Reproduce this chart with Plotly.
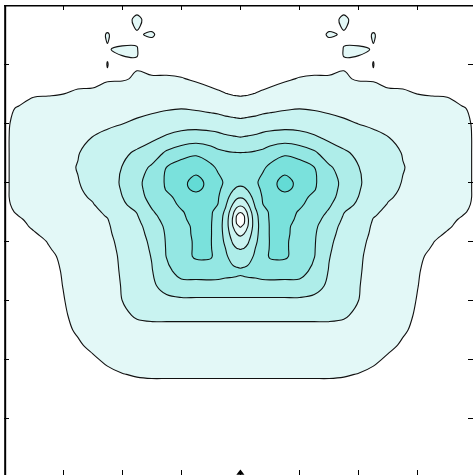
import plotly.graph_objects as go

# Grid columns for the left half of the field (x <= 0); the field is mirror-symmetric about x = 0.
x_half = [-4.0, -3.75, -3.5, -3.25, -3.0, -2.75, -2.5, -2.25, -2.0, -1.75, -1.5,
          -1.25, -1.0, -0.75, -0.5, -0.375, -0.25, -0.125, -0.0625, 0.0]

# Grid rows, top to bottom (finer spacing through the central well).
y_rows = [4.0, 3.75, 3.5, 3.25, 3.0, 2.75, 2.5, 2.25, 2.0, 1.75, 1.5, 1.25, 1.0,
          0.875, 0.75, 0.625, 0.5, 0.4375, 0.375, 0.3125, 0.25, 0.125, 0.0, -0.125, -0.25,
          -0.5, -0.75, -1.0, -1.25, -1.5, -1.75, -2.0, -2.25, -2.5, -2.75,
          -3.0, -3.25, -3.5, -3.75, -4.0]

# Field values on the half grid, one row per entry of y_rows.
z_half = [
    [0, 0, 0, 0, 0, 0, 0, 0, 0, 0, 0, 0, 0, 0, 0, 0, 0, 0, 0, 0],
    [0, 0, 0, 0, 0, 0, 0, 0, 0, 1.5, 0, 0, 0, 0, 0, 0, 0, 0, 0, 0],
    [0, 0, 0, 0, 0, 0, 0, 1.15, 0, 0.8, 1.25, 0, 0, 0, 0, 0, 0, 0, 0, 0],
    [0, 0, 0, 0, 0, 0, 0, 0.9, 1.3, 1.05, 0, 0, 0, 0, 0, 0, 0, 0, 0, 0],
    [0, 0, 0.18, 0.2, 0.33, 0.62, 0.51, 1.02, 0.6, 0.95, 0.72, 0.69, 0.59, 0.38, 0.15, 0, 0, 0, 0, 0],
    [0, 0.33, 0.55, 0.58, 0.67, 0.85, 0.82, 0.94, 0.95, 1.06, 1.09, 1.1, 1.05, 0.89, 0.69, 0.56, 0.42, 0.3, 0.27, 0.25],
    [0.6, 0.69, 0.91, 0.94, 0.99, 1.07, 1.11, 1.24, 1.29, 1.41, 1.46, 1.51, 1.52, 1.4, 1.24, 1.14, 1.02, 0.93, 0.91, 0.89],
    [0.84, 1.06, 1.28, 1.31, 1.32, 1.3, 1.41, 1.55, 1.63, 1.75, 1.83, 1.92, 1.98, 1.9, 1.79, 1.73, 1.64, 1.58, 1.55, 1.53],
    [0.91, 1.13, 1.4, 1.5, 1.55, 1.57, 1.71, 1.85, 1.98, 2.13, 2.3, 2.5, 2.61, 2.6, 2.5, 2.44, 2.33, 2.28, 2.25, 2.22],
    [0.92, 1.15, 1.37, 1.55, 1.65, 1.75, 2.03, 2.22, 2.31, 2.63, 2.84, 3.14, 3.38, 3.52, 3.44, 3.34, 3.2, 3.12, 3.08, 3.05],
    [0.92, 1.15, 1.37, 1.57, 1.75, 1.95, 2.35, 2.55, 2.83, 3.12, 3.46, 4.15, 4.61, 4.85, 4.47, 4.2, 4.1, 4.03, 4.02, 4.01],
    [0.92, 1.15, 1.37, 1.57, 1.75, 2.04, 2.38, 2.69, 3.02, 3.56, 4.15, 5.02, 5.45, 5.59, 5.2, 4.85, 4.6, 4.5, 4.47, 4.45],
    [0.92, 1.15, 1.37, 1.57, 1.76, 1.96, 2.31, 2.68, 3.09, 3.76, 4.44, 5.11, 5.7, 6.4, 5.62, 5.25, 4.85, 4.45, 4.37, 4.3],
    [0.92, 1.15, 1.37, 1.57, 1.71, 1.91, 2.21, 2.64, 3.05, 3.72, 4.39, 5.05, 5.63, 6.25, 5.54, 5.16, 4.65, 4.05, 3.8, 3.72],
    [0.92, 1.15, 1.37, 1.55, 1.67, 1.86, 2.08, 2.57, 2.99, 3.67, 4.27, 4.79, 5.3, 5.45, 5.35, 5.05, 4.42, 3.49, 3.2, 3.1],
    [0.9, 1.13, 1.33, 1.5, 1.61, 1.78, 1.96, 2.33, 2.81, 3.44, 4.12, 4.63, 5.15, 5.4, 5.25, 4.98, 4.13, 2.93, 2.41, 2.24],
    [0.85, 1.07, 1.28, 1.45, 1.54, 1.71, 1.87, 2.1, 2.56, 3.04, 3.91, 4.44, 4.93, 5.35, 5.12, 4.62, 3.81, 2.22, 1.44, 1.08],
    [0.79, 1.01, 1.2, 1.37, 1.5, 1.67, 1.84, 2.04, 2.48, 2.95, 3.78, 4.38, 4.88, 5.32, 5.1, 4.55, 3.68, 2.0, 1.0, 0.64],
    [0.73, 0.95, 1.13, 1.29, 1.47, 1.64, 1.81, 1.98, 2.41, 2.87, 3.66, 4.32, 4.83, 5.3, 5.08, 4.53, 3.62, 1.85, 0.85, 0.2],
    [0.68, 0.91, 1.09, 1.25, 1.44, 1.61, 1.78, 1.95, 2.34, 2.8, 3.53, 4.25, 4.76, 5.25, 5.06, 4.52, 3.57, 1.86, 0.93, 0.5],
    [0.64, 0.87, 1.06, 1.22, 1.41, 1.58, 1.76, 1.93, 2.28, 2.74, 3.41, 4.18, 4.69, 5.2, 5.05, 4.52, 3.55, 2.0, 1.24, 0.92],
    [0.5, 0.73, 0.95, 1.13, 1.33, 1.52, 1.71, 1.9, 2.22, 2.68, 3.28, 4.11, 4.63, 5.2, 5.05, 4.52, 3.65, 2.43, 2.01, 1.83],
    [0.37, 0.6, 0.81, 1.03, 1.24, 1.45, 1.65, 1.86, 2.16, 2.62, 3.17, 4.08, 4.59, 5.15, 5.04, 4.5, 3.81, 2.85, 2.53, 2.43],
    [0.3, 0.52, 0.74, 0.96, 1.17, 1.38, 1.6, 1.82, 2.13, 2.58, 3.1, 4.06, 4.58, 5.15, 5.06, 4.5, 4.0, 3.25, 3.03, 2.96],
    [0.22, 0.44, 0.66, 0.88, 1.1, 1.35, 1.58, 1.81, 2.09, 2.55, 3.04, 4.04, 4.57, 5.15, 5.1, 4.59, 4.15, 3.58, 3.4, 3.34],
    [0.1, 0.38, 0.6, 0.82, 1.04, 1.3, 1.54, 1.79, 2.06, 2.51, 2.95, 3.74, 4.4, 4.45, 4.5, 4.45, 4.3, 4.25, 4.2, 4.15],
    [0, 0.33, 0.55, 0.78, 1.01, 1.25, 1.51, 1.76, 2.03, 2.4, 2.78, 3.45, 3.67, 3.67, 3.67, 3.67, 3.67, 3.67, 3.67, 3.67],
    [0, 0.27, 0.5, 0.73, 0.97, 1.22, 1.48, 1.74, 2.0, 2.35, 2.55, 2.7, 2.83, 2.83, 2.83, 2.83, 2.83, 2.83, 2.83, 2.83],
    [0, 0.2, 0.44, 0.68, 0.92, 1.17, 1.43, 1.68, 1.86, 2.08, 2.12, 2.12, 2.12, 2.12, 2.12, 2.12, 2.12, 2.12, 2.12, 2.12],
    [0, 0.1, 0.35, 0.6, 0.85, 1.08, 1.33, 1.55, 1.7, 1.78, 1.84, 1.84, 1.84, 1.84, 1.84, 1.84, 1.84, 1.84, 1.84, 1.84],
    [0, 0, 0.2, 0.45, 0.7, 0.92, 1.15, 1.35, 1.48, 1.55, 1.58, 1.58, 1.58, 1.58, 1.58, 1.58, 1.58, 1.58, 1.58, 1.58],
    [0, 0, 0, 0.2, 0.45, 0.7, 0.9, 1.12, 1.25, 1.3, 1.33, 1.33, 1.33, 1.33, 1.33, 1.33, 1.33, 1.33, 1.33, 1.33],
    [0, 0, 0, 0, 0.2, 0.4, 0.6, 0.85, 0.98, 1.05, 1.07, 1.07, 1.07, 1.07, 1.07, 1.07, 1.07, 1.07, 1.07, 1.07],
    [0, 0, 0, 0, 0, 0, 0.35, 0.55, 0.7, 0.78, 0.82, 0.82, 0.82, 0.82, 0.82, 0.82, 0.82, 0.82, 0.82, 0.82],
    [0, 0, 0, 0, 0, 0, 0, 0.3, 0.45, 0.52, 0.57, 0.57, 0.57, 0.57, 0.57, 0.57, 0.57, 0.57, 0.57, 0.57],
    [0, 0, 0, 0, 0, 0, 0, 0, 0.2, 0.27, 0.31, 0.31, 0.31, 0.31, 0.31, 0.31, 0.31, 0.31, 0.31, 0.31],
    [0, 0, 0, 0, 0, 0, 0, 0, 0, 0, 0.06, 0.06, 0.06, 0.06, 0.06, 0.06, 0.06, 0.06, 0.06, 0.06],
    [0, 0, 0, 0, 0, 0, 0, 0, 0, 0, 0, 0, 0, 0, 0, 0, 0, 0, 0, 0],
    [0, 0, 0, 0, 0, 0, 0, 0, 0, 0, 0, 0, 0, 0, 0, 0, 0, 0, 0, 0],
    [0, 0, 0, 0, 0, 0, 0, 0, 0, 0, 0, 0, 0, 0, 0, 0, 0, 0, 0, 0],
]

# Contour levels and the fill colour of each band (below the first level up to above the last).
level_start, level_end, level_step = 1, 6, 1
band_colors = ["#ffffff", "#e3f8f7", "#c9f3f1", "#aeede9", "#94e7e3", "#7ae1dc", "#63dbd5"]

# Marker on the bottom edge at the symmetry axis.
axis_marker_x = [0.0]
axis_marker_y = [-3.92]

# Mirror the half grid into the full grid.
x_full = x_half + [-v for v in reversed(x_half[:-1])]
z_full = [row + row[-2::-1] for row in z_half]
y_asc = y_rows[::-1]
z_asc = z_full[::-1]

# Stepped colour scale: each band gets one flat colour.
n_bands = len(band_colors)
n_levels = n_bands - 1
colorscale = []
for j, c in enumerate(band_colors):
    lo = max(0.0, (j - 0.5) / n_levels)
    hi = min(1.0, (j + 0.5) / n_levels)
    colorscale.append([lo, c])
    colorscale.append([hi, c])

fig = go.Figure()
fig.add_trace(go.Contour(
    x=x_full, y=y_asc, z=z_asc,
    autocontour=False,
    contours=dict(start=level_start, end=level_end, size=level_step,
                  coloring="fill", showlines=True),
    colorscale=colorscale,
    showscale=False,
    line=dict(color="#111111", width=1.1, smoothing=1.0),
    hoverinfo="skip",
))
fig.add_trace(go.Scatter(
    x=axis_marker_x, y=axis_marker_y, mode="markers",
    marker=dict(symbol="triangle-up", size=7, color="#000000", line=dict(width=0)),
    hoverinfo="skip", cliponaxis=True,
))

axis_common = dict(
    showgrid=False, zeroline=False, showticklabels=False,
    ticks="inside", ticklen=5, tickwidth=1, tickcolor="#000000",
    tick0=0, dtick=1, mirror="ticks", showline=False,
)
fig.update_xaxes(range=[-4.0, 3.936], **axis_common)
fig.update_yaxes(range=[-3.953, 4.0], **axis_common)

# Left and top frame lines.
fig.add_shape(type="line", xref="x", yref="paper", x0=-3.98, x1=-3.98, y0=0, y1=1,
              line=dict(color="#000000", width=2), layer="above")
fig.add_shape(type="line", xref="paper", yref="y", x0=0, x1=1, y0=3.99, y1=3.99,
              line=dict(color="#000000", width=2), layer="above")

fig.update_layout(
    width=473, height=475,
    margin=dict(l=4, r=0, t=5, b=0, pad=0),
    paper_bgcolor="#ffffff", plot_bgcolor="#ffffff",
    showlegend=False,
)

fig.write_html("out.html")
